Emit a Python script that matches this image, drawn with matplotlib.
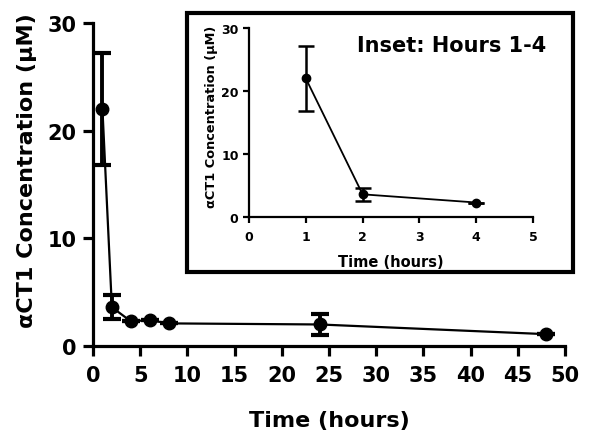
import matplotlib.pyplot as plt
from matplotlib.patches import Rectangle

# main data: time in hours, concentration in uM, error (SD)
t = [1, 2, 4, 6, 8, 24, 48]
conc = [22.0, 3.6, 2.3, 2.4, 2.1, 2.0, 1.1]
err = [5.2, 1.1, 0.0, 0.0, 0.0, 1.0, 0.0]

# inset data, hours 1-4
t_in = [1, 2, 4]
conc_in = [22.0, 3.6, 2.3]
err_in = [5.2, 1.0, 0.0]

plt.rcParams['font.family'] = ['DejaVu Sans']
plt.rcParams['font.weight'] = 'bold'

fig = plt.figure(figsize=(5.95, 4.31), dpi=100)
ax = fig.add_axes([93 / 595, 1 - 347 / 431, (565 - 93) / 595, (347 - 24) / 431])

ax.errorbar(t, conc, yerr=err, color='black', marker='o', markersize=9,
            linewidth=1.6, elinewidth=2.8, capsize=6.5, capthick=3)
ax.set_xlim(0, 50)
ax.set_ylim(0, 30)
ax.set_xticks(range(0, 51, 5))
ax.set_yticks([0, 10, 20, 30])
for s in ['top', 'right']:
    ax.spines[s].set_visible(False)
for s in ['left', 'bottom']:
    ax.spines[s].set_linewidth(2.3)
ax.tick_params(width=2.3, length=7, labelsize=15, pad=5)
ax.tick_params(axis='x', pad=7)
ax.set_xlabel('Time (hours)', fontsize=16, fontweight='bold', labelpad=18)
ax.set_ylabel('\u03b1CT1 Concentration (\u03bcM)', fontsize=16, fontweight='bold')
ax.yaxis.set_label_coords(-0.118, 0.545)

# box around the inset
fig.patches.append(Rectangle((187 / 595, 1 - 273 / 431), 386 / 595, 259 / 431,
                             transform=fig.transFigure, fill=False,
                             edgecolor='black', linewidth=3))

axi = fig.add_axes([249 / 595, 1 - 218 / 431, (533 - 249) / 595, (218 - 29) / 431])
axi.errorbar(t_in, conc_in, yerr=err_in, color='black', marker='o', markersize=6,
             linewidth=1.3, elinewidth=1.8, capsize=5.5, capthick=1.8)
axi.set_xlim(0, 5)
axi.set_ylim(0, 30)
axi.set_yticks([0, 10, 20, 30])
for s in ['top', 'right']:
    axi.spines[s].set_visible(False)
for s in ['left', 'bottom']:
    axi.spines[s].set_linewidth(1.6)
axi.tick_params(width=1.6, length=4.5, labelsize=9, pad=3)
axi.tick_params(axis='x', pad=5)
axi.set_xlabel('Time (hours)', fontsize=10.5, fontweight='bold', labelpad=8)
axi.set_ylabel('\u03b1CT1 Concentration (\u03bcM)', fontsize=9.3, fontweight='bold')
axi.yaxis.set_label_coords(-0.11, 0.534)
axi.text(546 / 595, 1 - 46 / 431, 'Inset: Hours 1-4', transform=fig.transFigure,
         ha='right', va='center', fontsize=15, fontweight='bold')

fig.savefig('out.png', dpi=100)
